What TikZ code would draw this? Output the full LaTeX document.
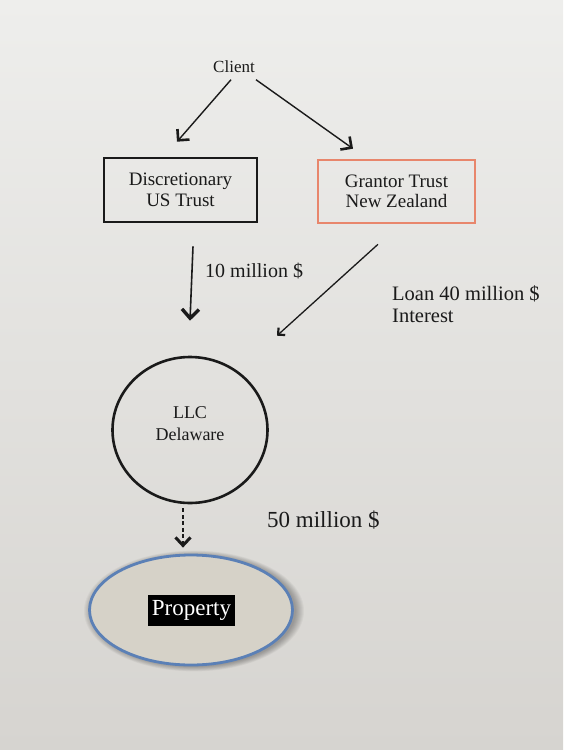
\documentclass[tikz,border=0pt]{standalone}
\usepackage{fontspec}
\setmainfont{Liberation Serif}
\usetikzlibrary{arrows.meta,calc,shapes.geometric}
\definecolor{pagetop}{HTML}{EEEEEC}
\definecolor{pagebot}{HTML}{D6D4D0}
\definecolor{grantorc}{HTML}{E8866C}
\definecolor{propfill}{HTML}{D6D2C8}
\definecolor{propline}{HTML}{5B80B6}
\definecolor{inkc}{HTML}{1A1A1A}
\tikzset{
  lbl/.style={inner sep=0pt, text=inkc},
  trustbox/.style={draw, line width=2.6pt, minimum width=153pt, minimum height=64pt, align=center, font=\fontsize{19}{20.5}\selectfont, text=inkc},
  arr/.style={draw=inkc, line width=1.4pt, -{Straight Barb[length=8pt,width=16pt,line width=2.6pt]}},
  bigarr/.style={draw=inkc, line width=1.6pt, -{Straight Barb[length=9pt,width=17pt,line width=3.4pt]}},
  thinarr/.style={draw=inkc, line width=1.3pt, -{Straight Barb[length=5pt,width=10pt,line width=2.2pt]}},
  dasharr/.style={draw=inkc, line width=1.5pt, dash pattern=on 4pt off 2.5pt, -{Straight Barb[length=8pt,width=15pt,line width=3pt]}},
}
\begin{document}
\begin{tikzpicture}[x=1pt,y=-1pt]
\useasboundingbox (0,0) rectangle (563,750);
\shade[top color=pagetop, bottom color=pagebot] (0,0) rectangle (563,750);

\node[lbl, font=\fontsize{17}{20}\selectfont, text height=13pt, text depth=4pt] (client) at (234,68) {Client};
\node[trustbox, draw=inkc] (disc) at (180.5,190) {Discretionary\\US Trust};
\node[trustbox, draw=grantorc, minimum width=157pt, minimum height=63pt] (gran) at (396.5,191.5) {Grantor Trust\\New Zealand};
\node[draw=inkc, line width=2.6pt, ellipse, minimum width=155pt, minimum height=146pt, inner sep=0pt] (llc) at (190,430) {};
\node[lbl, align=center, font=\fontsize{18}{22}\selectfont] (llctext) at (190,424) {LLC\\Delaware};

% soft shadow of property ellipse
\foreach \o in {1,...,9}{
  \fill[black, opacity=0.035] (194,611) ellipse ({101+\o} and {55+\o*0.6});
}
\node[draw=propline, fill=propfill, line width=2.8pt, ellipse, minimum width=203pt, minimum height=110pt, inner sep=0pt] (prop) at (191,610) {};
\node[fill=black, text=white, font=\fontsize{23}{24}\selectfont, minimum width=87pt, minimum height=31pt, inner sep=1pt] (proptext) at (191.5,610.5) {Property};

\node[lbl, anchor=west, font=\fontsize{20}{22}\selectfont] (l10) at (205,271) {10 million \$};
\node[lbl, anchor=west, align=left, font=\fontsize{20.5}{22}\selectfont] (l40) at (392,304) {Loan 40 million \$\\Interest};
\node[lbl, anchor=west, font=\fontsize{23}{24}\selectfont] (l50) at (267,520) {50 million \$};

\draw[arr] ($(client.south)+(-3,3)$) -- ($(disc.north)+(-3.5,-15)$);
\draw[arr] ($(client.south)+(22,3)$) -- ($(gran.north)+(-43.5,-10)$);
\draw[bigarr] ($(disc.south)+(12.5,23)$) -- ($(llc.north)+(0,-35)$);
\draw[thinarr] ($(gran.south)+(-18.5,20)$) -- ($(llc.north)+(87,-20)$);
\draw[dasharr] ($(llc.south)+(-7,4)$) -- ($(prop.north)+(-8,-6)$);
\end{tikzpicture}
\end{document}
